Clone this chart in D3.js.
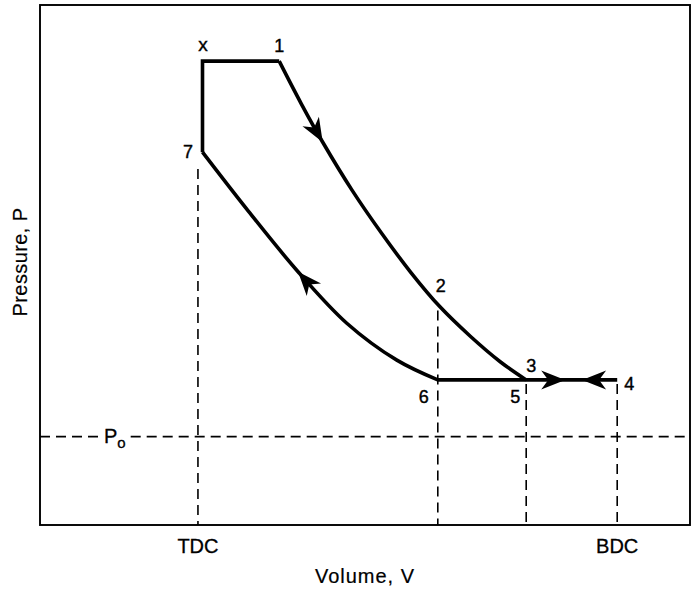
<!DOCTYPE html>
<html>
<head>
<meta charset="utf-8">
<script src="https://cdn.jsdelivr.net/npm/d3@7/dist/d3.min.js"></script>
<style>
  html, body { margin: 0; padding: 0; background: #fff; }
  svg { display: block; }
  text { font-family: "Liberation Sans", Arial, Helvetica, sans-serif; fill: #000; }
</style>
</head>
<body>
<svg id="chart" width="692" height="591"></svg>
<script>
// ---- data (volume V and pressure P in arbitrary units, 0..100) ----
const combustionV = [25.0, 25.0, 36.8];          // 7 -> x -> 1
const combustionP = [71.7, 89.2, 89.2];
const expansionV = [36.8, 40.2, 43.5, 48.0, 52.5, 57.1, 61.5, 66.2, 70.8, 74.8]; // 1 -> 2 -> 3
const expansionP = [89.2, 81.0, 73.6, 64.4, 56.2, 48.5, 42.0, 36.3, 31.4, 27.9];
const compressionV = [61.2, 54.9, 47.2, 39.5, 31.9, 25.0];  // 6 -> 7
const compressionP = [27.9, 31.7, 38.8, 49.0, 60.6, 71.7];
const strokeLineV = [61.2, 88.8];                // 6 -> 4 (through 5, 3)
const strokeLineP = [27.9, 27.9];

const pointNames = ["x", "1", "2", "3", "4", "5", "6", "7"];
const pointV = [25.0, 36.8, 61.5, 74.8, 88.8, 74.8, 61.2, 25.0];
const pointP = [89.2, 89.2, 42.0, 27.9, 27.9, 27.9, 27.9, 71.7];

const refLineV = [24.3, 61.2, 74.8, 88.8];       // dashed verticals
const refLineTopP = [70.0, 42.0, 27.9, 27.9];
const ambientP = 17.0;                           // P_o

const tickLabels = ["TDC", "BDC"];
const tickV = [24.3, 88.8];

const arrowCurveV = [43.5, 39.7];                // tip positions on expansion / compression
const arrowLineV = [80.8, 83.4];                 // tips on the horizontal line
const arrowLineDir = [1, -1];

// ---- layout ----
const svg = d3.select("#chart");
const x = d3.scaleLinear().domain([0, 100]).range([40, 690]);
const y = d3.scaleLinear().domain([0, 100]).range([525, 5]);

const labelOffset = {
  "x": [0.5, -10], "1": [0, -9], "2": [1, -15], "3": [5, -8],
  "4": [12, 10], "5": [-11, 23], "6": [-14, 23], "7": [-14.5, 6]
};

// frame
svg.append("rect")
  .attr("x", x(0)).attr("y", y(100))
  .attr("width", x(100) - x(0)).attr("height", y(0) - y(100))
  .attr("fill", "none").attr("stroke", "#000").attr("stroke-width", 1.9);

const dash = "10,6";

// dashed verticals
refLineV.forEach((v, i) => {
  svg.append("line")
    .attr("x1", x(v)).attr("x2", x(v))
    .attr("y1", y(refLineTopP[i]) + (i === 0 ? 8 : 4)).attr("y2", y(0))
    .attr("stroke", "#000").attr("stroke-width", 1.6)
    .attr("stroke-dasharray", dash);
});

// P_o label and dashed horizontal line
const poLabel = svg.append("text")
  .attr("x", 104).attr("y", y(ambientP) + 6)
  .attr("font-size", 20).attr("stroke", "#000").attr("stroke-width", 0.3);
poLabel.append("tspan").text("P");
poLabel.append("tspan").attr("font-size", 15).attr("dy", 5).text("o");
const bb = poLabel.node().getBBox();
svg.append("line")
  .attr("x1", x(0)).attr("x2", bb.x - 5)
  .attr("y1", y(ambientP)).attr("y2", y(ambientP))
  .attr("stroke", "#000").attr("stroke-width", 1.6).attr("stroke-dasharray", dash);
svg.append("line")
  .attr("x1", bb.x + bb.width + 5).attr("x2", x(100))
  .attr("y1", y(ambientP)).attr("y2", y(ambientP))
  .attr("stroke", "#000").attr("stroke-width", 1.6).attr("stroke-dasharray", dash);

// cycle lines
const zip = (vs, ps) => vs.map((v, i) => [v, ps[i]]);
const straight = d3.line().x(d => x(d[0])).y(d => y(d[1]));
const smooth = d3.line().x(d => x(d[0])).y(d => y(d[1])).curve(d3.curveCatmullRom.alpha(0.5));

const lineStyle = sel => sel.attr("fill", "none").attr("stroke", "#000")
  .attr("stroke-width", 3.6).attr("stroke-linejoin", "miter").attr("stroke-linecap", "butt");

svg.append("path").attr("d", straight(zip(combustionV, combustionP))).call(lineStyle);
const expPath = svg.append("path").attr("d", smooth(zip(expansionV, expansionP))).call(lineStyle);
const compPath = svg.append("path").attr("d", smooth(zip(compressionV, compressionP))).call(lineStyle);
svg.append("path").attr("d", straight(zip(strokeLineV, strokeLineP))).call(lineStyle);

// arrowheads
const arrowShape = "M0,0 L-24,-9.5 L-17,0 L-24,9.5 Z";
function drawArrow(px, py, angleDeg) {
  svg.append("path").attr("d", arrowShape)
    .attr("transform", `translate(${px},${py}) rotate(${angleDeg})`)
    .attr("fill", "#000");
}
function arrowOnPath(pathSel, tipV) {
  const node = pathSel.node();
  const L = node.getTotalLength();
  const target = x(tipV);
  const x0 = node.getPointAtLength(0).x;
  const dir = node.getPointAtLength(L).x > x0 ? 1 : -1;
  let lo = 0, hi = L;
  for (let k = 0; k < 40; k++) {
    const mid = (lo + hi) / 2;
    const p = node.getPointAtLength(mid);
    if ((p.x - target) * dir < 0) lo = mid; else hi = mid;
  }
  const s = (lo + hi) / 2;
  const p = node.getPointAtLength(s);
  const q = node.getPointAtLength(Math.max(0, s - 4));
  const ang = Math.atan2(p.y - q.y, p.x - q.x) * 180 / Math.PI;
  drawArrow(p.x, p.y, ang);
}
arrowOnPath(expPath, arrowCurveV[0]);
arrowOnPath(compPath, arrowCurveV[1]);
arrowLineV.forEach((v, i) => drawArrow(x(v), y(strokeLineP[0]), arrowLineDir[i] > 0 ? 0 : 180));

// point labels
pointNames.forEach((name, i) => {
  const off = labelOffset[name];
  svg.append("text")
    .attr("x", x(pointV[i]) + off[0]).attr("y", y(pointP[i]) + off[1])
    .attr("text-anchor", "middle").attr("font-size", name === "x" ? 19 : 18)
    .attr("stroke", "#000").attr("stroke-width", 0.4)
    .text(name);
});

// tick labels
tickLabels.forEach((t, i) => {
  svg.append("text")
    .attr("x", x(tickV[i])).attr("y", 553)
    .attr("text-anchor", "middle").attr("font-size", 20)
    .attr("stroke", "#000").attr("stroke-width", 0.3)
    .text(t);
});

// axis titles
svg.append("text")
  .attr("x", 365).attr("y", 583)
  .attr("text-anchor", "middle").attr("font-size", 20).attr("letter-spacing", 1)
  .attr("stroke", "#000").attr("stroke-width", 0.2)
  .text("Volume, V");
svg.append("text")
  .attr("transform", "translate(27,262) rotate(-90)")
  .attr("text-anchor", "middle").attr("font-size", 20).attr("letter-spacing", 0.4)
  .attr("stroke", "#000").attr("stroke-width", 0.2)
  .text("Pressure, P");
</script>
</body>
</html>
